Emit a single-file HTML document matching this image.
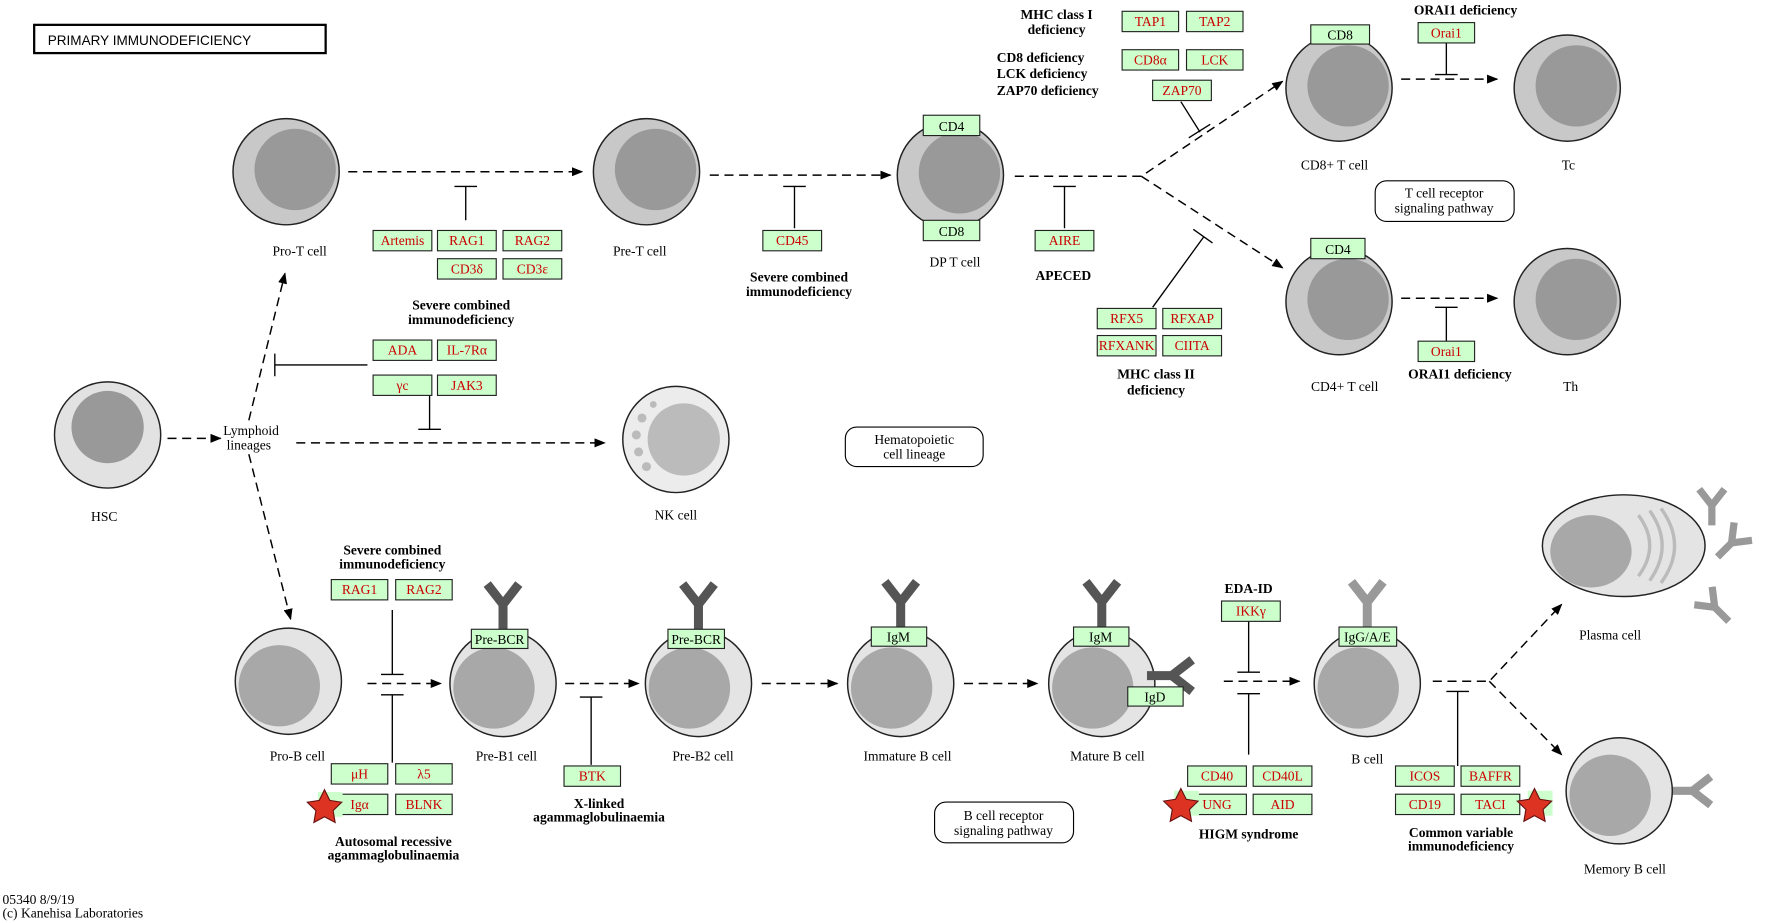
<!DOCTYPE html>
<html><head><meta charset="utf-8"><style>
html,body{margin:0;padding:0;background:#fff;}
svg{display:block;}
text{font-family:"Liberation Serif",serif;font-size:12px;fill:#000;}
.b{font-weight:bold;}
.g{fill:#cc0000;}
</style></head><body>
<svg width="1772" height="923" viewBox="0 0 1568 817" xmlns="http://www.w3.org/2000/svg">
<defs>
<marker id="a" markerWidth="10" markerHeight="8" refX="9" refY="4" orient="auto" markerUnits="userSpaceOnUse"><path d="M0,0 L10,4 L0,8 z" fill="#000"/></marker>
<g id="tc"><circle r="47" fill="#c8c8c8" stroke="#222" stroke-width="1.3"/><circle cx="8" cy="-2" r="36" fill="#999"/></g>
<g id="bc"><circle r="47" fill="#e4e4e4" stroke="#222" stroke-width="1.3"/><circle cx="-8" cy="4" r="36" fill="#a8a8a8"/></g>
<g id="yd"><path d="M0,0 V-22 M0,-22 L-14,-40 M0,-22 L14,-40" stroke="#555" stroke-width="8" fill="none"/></g>
<g id="yl"><path d="M0,0 V-22 M0,-22 L-14,-40 M0,-22 L14,-40" stroke="#999" stroke-width="8" fill="none"/></g>
<g id="star"><rect x="-6" y="-14" width="22" height="22" fill="#ccffcc"/><path d="M0,-16 L4.7,-6.5 L15.2,-4.9 L7.6,2.5 L9.4,13 L0,8 L-9.4,13 L-7.6,2.5 L-15.2,-4.9 L-4.7,-6.5 z" fill="#dd3322" stroke="#661111" stroke-width="1"/></g>
</defs>
<g font-size="12">
<rect x="30" y="22" width="258" height="25" fill="#fff" stroke="#000" stroke-width="2"/>
<text x="42" y="40" style="font-family:'Liberation Sans',sans-serif;font-size:12px">PRIMARY  IMMUNODEFICIENCY</text>

<!-- cells -->
<use href="#tc" x="253" y="152"/><use href="#tc" x="572" y="152"/><use href="#tc" x="841" y="155"/>
<use href="#tc" x="1185" y="78"/><use href="#tc" x="1387" y="78"/><use href="#tc" x="1185" y="267"/><use href="#tc" x="1387" y="267"/>
<circle cx="95" cy="385" r="47" fill="#e2e2e2" stroke="#222" stroke-width="1.3"/><circle cx="95" cy="378" r="32" fill="#999"/>
<circle cx="598" cy="389" r="47" fill="#ececec" stroke="#222" stroke-width="1.3"/><circle cx="605" cy="389" r="32" fill="#bbb"/>
<g fill="#bbb"><circle cx="568" cy="370" r="4"/><circle cx="563" cy="385" r="4"/><circle cx="565" cy="400" r="4"/><circle cx="572" cy="413" r="4"/><circle cx="578" cy="358" r="3"/></g>
<use href="#bc" x="255" y="603"/>
<use href="#yd" x="445" y="557"/><use href="#bc" x="445" y="605"/>
<use href="#yd" x="618" y="557"/><use href="#bc" x="618" y="605"/>
<use href="#yd" x="797" y="555"/><use href="#bc" x="797" y="605"/>
<use href="#yd" x="975" y="555"/><use href="#bc" x="975" y="605"/>
<g transform="translate(1015,598) rotate(90)"><use href="#yd"/></g>
<use href="#yl" x="1210" y="555"/><use href="#bc" x="1210" y="605"/>
<ellipse cx="1437" cy="483" rx="72" ry="45" fill="#e4e4e4" stroke="#222" stroke-width="1.3"/>
<ellipse cx="1408" cy="488" rx="36" ry="32" fill="#a8a8a8"/>
<g stroke="#bbb" stroke-width="3" fill="none"><path d="M1450,456 Q1470,483 1450,510"/><path d="M1460,452 Q1482,483 1460,514"/><path d="M1470,450 Q1494,483 1470,516"/></g>
<g transform="translate(1515,465)"><use href="#yl" transform="scale(0.8)"/></g>
<g transform="translate(1520,493) rotate(45)"><use href="#yl" transform="scale(0.8)"/></g>
<g transform="translate(1530,550) rotate(-45)"><use href="#yl" transform="scale(0.8)"/></g>
<g transform="translate(1478,700) rotate(90)"><use href="#yl" transform="scale(0.9)"/></g>
<use href="#bc" x="1433" y="700"/>

<!-- receptor boxes -->
<g fill="#ccffcc" stroke="#222">
<rect x="817" y="102" width="50" height="18"/><rect x="817" y="195" width="50" height="18"/>
<rect x="1160" y="22" width="52" height="17"/><rect x="1160" y="211" width="48" height="18"/>
<rect x="417" y="557" width="50" height="17"/><rect x="591" y="557" width="50" height="17"/>
<rect x="771" y="555" width="49" height="17"/><rect x="950" y="555" width="49" height="17"/>
<rect x="998" y="608" width="49" height="17"/><rect x="1185" y="555" width="51" height="17"/>
</g>
<g text-anchor="middle">
<text x="842" y="116">CD4</text><text x="842" y="209">CD8</text><text x="1186" y="35">CD8</text><text x="1184" y="225">CD4</text>
<text x="442" y="570">Pre-BCR</text><text x="616" y="570">Pre-BCR</text><text x="795" y="568">IgM</text><text x="974" y="568">IgM</text>
<text x="1022" y="621">IgD</text><text x="1210" y="568">IgG/A/E</text>
</g>

<!-- arrows -->
<g stroke="#000" stroke-width="1.3" fill="none" stroke-dasharray="8,5">
<path d="M308,152 H515" marker-end="url(#a)"/>
<path d="M628,155 H788" marker-end="url(#a)"/>
<path d="M898,156 H1010 L1135,72" marker-end="url(#a)"/>
<path d="M1010,156 L1135,237" marker-end="url(#a)"/>
<path d="M1240,70 H1325" marker-end="url(#a)"/>
<path d="M1240,264 H1325" marker-end="url(#a)"/>
<path d="M148,388 H195" marker-end="url(#a)"/>
<path d="M262,392 H535" marker-end="url(#a)"/>
<path d="M220,372 L252,242" marker-end="url(#a)"/>
<path d="M220,402 L257,548" marker-end="url(#a)"/>
<path d="M325,605 H390" marker-end="url(#a)"/>
<path d="M500,605 H565" marker-end="url(#a)"/>
<path d="M674,605 H741" marker-end="url(#a)"/>
<path d="M853,605 H918" marker-end="url(#a)"/>
<path d="M1083,603 H1150" marker-end="url(#a)"/>
<path d="M1268,603 H1318 L1382,535" marker-end="url(#a)"/>
<path d="M1318,603 L1382,668" marker-end="url(#a)"/>
</g>
<!-- inhibitions -->
<g stroke="#000" stroke-width="1.2" fill="none">
<path d="M412,195 V165 M402,165 H422"/>
<path d="M703,202 V165 M693,165 H713"/>
<path d="M942,202 V165 M932,165 H952"/>
<path d="M1045,90 L1062,117 M1052,122 L1071,110"/>
<path d="M1020,272 L1065,210 M1056,203 L1073,215"/>
<path d="M1280,38 V66 M1270,66 H1290"/>
<path d="M1280,302 V272 M1270,272 H1290"/>
<path d="M325,323 H243 M243,313 V333"/>
<path d="M380,350 V380 M370,380 H390"/>
<path d="M347,540 V597 M337,597 H357"/>
<path d="M347,675 V615 M337,615 H357"/>
<path d="M523,677 V617 M513,617 H533"/>
<path d="M1105,550 V595 M1095,595 H1115"/>
<path d="M1105,668 V614 M1095,614 H1115"/>
<path d="M1290,678 V612 M1280,612 H1300"/>
</g>

<!-- gene boxes -->
<g fill="#ccffcc" stroke="#222">
<rect x="330" y="204" width="52" height="18"/><rect x="387" y="204" width="52" height="18"/><rect x="445" y="204" width="52" height="18"/>
<rect x="387" y="229" width="52" height="18"/><rect x="445" y="229" width="52" height="18"/>
<rect x="675" y="204" width="52" height="18"/><rect x="916" y="204" width="52" height="18"/>
<rect x="330" y="301" width="52" height="18"/><rect x="387" y="301" width="52" height="18"/>
<rect x="330" y="332" width="52" height="18"/><rect x="387" y="332" width="52" height="18"/>
<rect x="993" y="10" width="50" height="18"/><rect x="1050" y="10" width="50" height="18"/>
<rect x="993" y="44" width="50" height="18"/><rect x="1050" y="44" width="50" height="18"/>
<rect x="1020" y="71" width="52" height="18"/>
<rect x="1255" y="20" width="50" height="18"/><rect x="1255" y="302" width="50" height="18"/>
<rect x="971" y="273" width="52" height="18"/><rect x="1029" y="273" width="52" height="18"/>
<rect x="971" y="297" width="52" height="18"/><rect x="1029" y="297" width="52" height="18"/>
<rect x="293" y="513" width="50" height="18"/><rect x="350" y="513" width="50" height="18"/>
<rect x="293" y="676" width="50" height="18"/><rect x="350" y="676" width="50" height="18"/>
<rect x="293" y="703" width="50" height="18"/><rect x="350" y="703" width="50" height="18"/>
<rect x="499" y="678" width="50" height="18"/><rect x="1081" y="532" width="52" height="18"/>
<rect x="1051" y="678" width="52" height="18"/><rect x="1109" y="678" width="52" height="18"/>
<rect x="1051" y="703" width="52" height="18"/><rect x="1109" y="703" width="52" height="18"/>
<rect x="1235" y="678" width="52" height="18"/><rect x="1293" y="678" width="52" height="18"/>
<rect x="1235" y="703" width="52" height="18"/><rect x="1293" y="703" width="52" height="18"/>
</g>
<g text-anchor="middle" class="g">
<text x="356" y="217" class="g">Artemis</text><text x="413" y="217" class="g">RAG1</text><text x="471" y="217" class="g">RAG2</text>
<text x="413" y="242" class="g">CD3δ</text><text x="471" y="242" class="g">CD3ε</text>
<text x="701" y="217" class="g">CD45</text><text x="942" y="217" class="g">AIRE</text>
<text x="356" y="314" class="g">ADA</text><text x="413" y="314" class="g">IL-7Rα</text>
<text x="356" y="345" class="g">γc</text><text x="413" y="345" class="g">JAK3</text>
<text x="1018" y="23" class="g">TAP1</text><text x="1075" y="23" class="g">TAP2</text>
<text x="1018" y="57" class="g">CD8α</text><text x="1075" y="57" class="g">LCK</text>
<text x="1046" y="84" class="g">ZAP70</text>
<text x="1280" y="33" class="g">Orai1</text><text x="1280" y="315" class="g">Orai1</text>
<text x="997" y="286" class="g">RFX5</text><text x="1055" y="286" class="g">RFXAP</text>
<text x="997" y="310" class="g">RFXANK</text><text x="1055" y="310" class="g">CIITA</text>
<text x="318" y="526" class="g">RAG1</text><text x="375" y="526" class="g">RAG2</text>
<text x="318" y="689" class="g">μH</text><text x="375" y="689" class="g">λ5</text>
<text x="318" y="716" class="g">Igα</text><text x="375" y="716" class="g">BLNK</text>
<text x="524" y="691" class="g">BTK</text><text x="1107" y="545" class="g">IKKγ</text>
<text x="1077" y="691" class="g">CD40</text><text x="1135" y="691" class="g">CD40L</text>
<text x="1077" y="716" class="g">UNG</text><text x="1135" y="716" class="g">AID</text>
<text x="1261" y="691" class="g">ICOS</text><text x="1319" y="691" class="g">BAFFR</text>
<text x="1261" y="716" class="g">CD19</text><text x="1319" y="716" class="g">TACI</text>
</g>
<use href="#star" x="287" y="715"/><use href="#star" x="1045" y="714"/><use href="#star" x="1358" y="714"/>

<!-- cell labels -->
<g text-anchor="middle">
<text x="265" y="226">Pro-T cell</text><text x="566" y="226">Pre-T cell</text><text x="845" y="236">DP T cell</text>
<text x="1181" y="150">CD8+ T cell</text><text x="1388" y="150">Tc</text>
<text x="1190" y="346">CD4+ T cell</text><text x="1390" y="346">Th</text>
<text x="92" y="461">HSC</text><text x="598" y="460">NK cell</text>
<text x="263" y="673">Pro-B cell</text><text x="448" y="673">Pre-B1 cell</text><text x="622" y="673">Pre-B2 cell</text>
<text x="803" y="673">Immature B cell</text><text x="980" y="673">Mature B cell</text><text x="1210" y="676">B cell</text>
<text x="1425" y="566">Plasma cell</text><text x="1438" y="773">Memory B cell</text>
<text x="222" y="385">Lymphoid</text><text x="220" y="398">lineages</text>
</g>
<!-- bold labels -->
<g text-anchor="middle" class="b">
<text class="b" x="408" y="274">Severe combined</text><text class="b" x="408" y="287">immunodeficiency</text>
<text class="b" x="707" y="249">Severe combined</text><text class="b" x="707" y="262">immunodeficiency</text>
<text class="b" x="941" y="248">APECED</text>
<text class="b" x="935" y="17">MHC class I</text><text class="b" x="935" y="30">deficiency</text>
<text class="b" x="1297" y="13">ORAI1 deficiency</text><text class="b" x="1292" y="335">ORAI1 deficiency</text>
<text class="b" x="1023" y="335">MHC class II</text><text class="b" x="1023" y="349">deficiency</text>
<text class="b" x="347" y="491">Severe combined</text><text class="b" x="347" y="503">immunodeficiency</text>
<text class="b" x="348" y="749">Autosomal recessive</text><text class="b" x="348" y="761">agammaglobulinaemia</text>
<text class="b" x="530" y="715">X-linked</text><text class="b" x="530" y="727">agammaglobulinaemia</text>
<text class="b" x="1105" y="525">EDA-ID</text><text class="b" x="1105" y="742">HIGM syndrome</text>
<text class="b" x="1293" y="741">Common variable</text><text class="b" x="1293" y="753">immunodeficiency</text>
</g>
<text class="b" x="882" y="55">CD8 deficiency</text><text class="b" x="882" y="69">LCK deficiency</text><text class="b" x="882" y="84">ZAP70 deficiency</text>

<!-- pathway boxes -->
<g fill="#fff" stroke="#000"><rect x="1217" y="160" width="123" height="36" rx="10"/><rect x="748" y="378" width="122" height="35" rx="10"/><rect x="827" y="710" width="123" height="36" rx="10"/></g>
<g text-anchor="middle">
<text x="1278" y="175">T cell receptor</text><text x="1278" y="188">signaling pathway</text>
<text x="809" y="393">Hematopoietic</text><text x="809" y="406">cell lineage</text>
<text x="888" y="726">B cell receptor</text><text x="888" y="739">signaling pathway</text>
</g>
<text x="2" y="800">05340 8/9/19</text><text x="2" y="812">(c) Kanehisa Laboratories</text>
</g>
</svg>
</body></html>
